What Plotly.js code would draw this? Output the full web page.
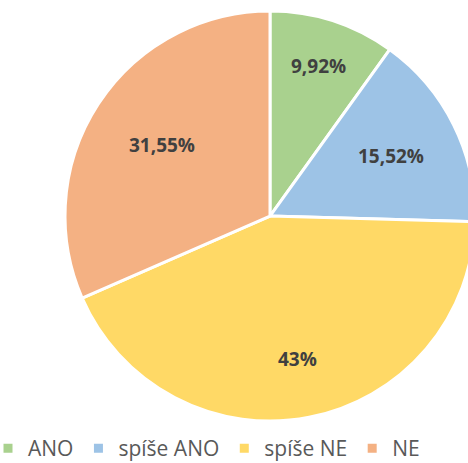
<!DOCTYPE html>
<html>
<head>
<meta charset="utf-8">
<script src="https://cdn.plot.ly/plotly-3.0.1.min.js"></script>
<style>
html,body{margin:0;padding:0;overflow:hidden;background:#fff;width:468px;height:463px;}
#chart{width:564px;height:469px;margin-left:-12px;}
</style>
</head>
<body>
<div id="chart"></div>
<script>
const categories = ["ANO", "spíše ANO", "spíše NE", "NE"];
const values = [9.92, 15.52, 43, 31.55];
const labelsText = ["9,92%", "15,52%", "43%", "31,55%"];
const colors = ["#a9d18e", "#9dc3e6", "#ffd966", "#f4b183"];

// label placement style (fraction of radius where each data label sits)
const labelRadius = [0.77, 0.66, 0.71, 0.63];

const W = 564, H = 469;
const domY = [0.1023, 0.9765];
const cy = (domY[0] + domY[1]) / 2;
const Rpx = (domY[1] - domY[0]) * H / 2;

const total = values.reduce((a, b) => a + b, 0);
let cum = 0;
const annotations = values.map((v, i) => {
  const mid = (cum + v / 2) / total * 2 * Math.PI;
  cum += v;
  const r = labelRadius[i] * Rpx;
  const dx = r * Math.sin(mid);
  const dy = r * Math.cos(mid);
  return {
    xref: "paper", yref: "paper",
    x: 0.5 + dx / W, y: cy + dy / H,
    xanchor: "center", yanchor: "middle",
    text: labelsText[i], showarrow: false,
    font: {family: "Open Sans", size: 19, color: "#404040", weight: "bold"}
  };
});

const trace = {
  type: "pie",
  labels: categories,
  values: values,
  textinfo: "none",
  sort: false,
  direction: "clockwise",
  rotation: 0,
  marker: {colors: colors, line: {color: "#ffffff", width: 3}},
  hoverinfo: "none",
  domain: {x: [0, 1], y: domY}
};

const layout = {
  width: W,
  height: H,
  margin: {l: 0, r: 0, t: 0, b: 0},
  paper_bgcolor: "#ffffff",
  showlegend: true,
  annotations: annotations,
  legend: {
    orientation: "h",
    x: 0,
    xanchor: "left",
    y: 0,
    yanchor: "bottom",
    font: {family: "Open Sans", size: 21, color: "#595959"},
    itemwidth: 30,
    traceorder: "normal"
  }
};

Plotly.newPlot("chart", [trace], layout, {displayModeBar: false, staticPlot: true});
</script>
</body>
</html>
